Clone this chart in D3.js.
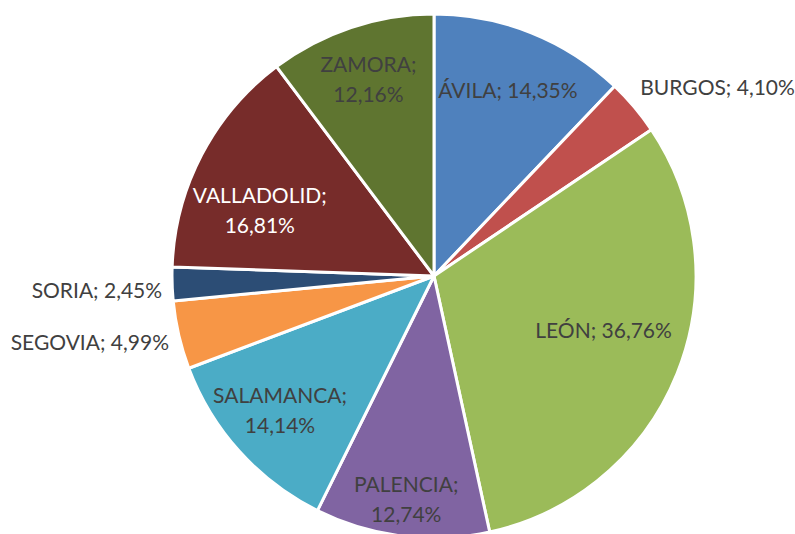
<!DOCTYPE html>
<html>
<head>
<meta charset="utf-8">
<script src="https://cdn.jsdelivr.net/npm/d3@7"></script>
<style>
  body { margin: 0; background: #fff; }
  text { font-family: Lato, "Open Sans", sans-serif; }
</style>
</head>
<body>
<div id="chart"></div>
<script>
// provinces and their values (as shown in the labels)
let provinces = ["ÁVILA", "BURGOS", "LEÓN", "PALENCIA", "SALAMANCA", "SEGOVIA", "SORIA", "VALLADOLID", "ZAMORA"];
let values = [14.35, 4.10, 36.76, 12.74, 14.14, 4.99, 2.45, 16.81, 12.16];
let colors = ["#4F81BD", "#C0504D", "#9BBB59", "#8064A2", "#4BACC6", "#F79646", "#2C4D75", "#772C2A", "#5F7530"];

// label placement: radius fraction, angle nudge (deg), outside or not, two lines or not
let labelRadius = [0.76, 1.0, 0.68, 0.86, 0.78, 1.0, 1.0, 0.71, 0.79];
let labelNudge = [0, 0, -4, 0, 1, 0, 0, -7, 0];
let outside = [false, true, false, false, false, true, true, false, false];
let twoLines = [false, false, false, true, true, false, false, true, true];
let labelColor = ["#404040", "#404040", "#404040", "#404040", "#404040", "#404040", "#404040", "#ffffff", "#404040"];

let width = 795, height = 534;
let cx = 434, cy = 276, radius = 262;

let svg = d3.select("#chart")
    .append("svg")
    .attr("width", width)
    .attr("height", height);

let g = svg.append("g")
    .attr("transform", "translate(" + cx + "," + cy + ")");

let data = provinces.map(function(p, i) { return { name: p, value: values[i], i: i }; });

let pie = d3.pie()
    .sort(null)
    .value(function(d) { return d.value; });

let arc = d3.arc()
    .innerRadius(0)
    .outerRadius(radius);

let arcs = pie(data);

// slices
g.selectAll("path")
    .data(arcs)
    .enter()
    .append("path")
    .attr("d", arc)
    .attr("fill", function(d) { return colors[d.data.i]; })
    .attr("stroke", "#fff")
    .attr("stroke-width", 3)
    .attr("stroke-linejoin", "round");

function fmt(v) {
    return v.toFixed(2).replace(".", ",") + "%";
}

// labels
arcs.forEach(function(d) {
    let i = d.data.i;
    let mid = (d.startAngle + d.endAngle) / 2 + labelNudge[i] * Math.PI / 180;
    let txt = g.append("text")
        .attr("fill", labelColor[i])
        .style("font-size", "21px");

    if (outside[i]) {
        let r = radius + 8;
        let x = Math.sin(mid) * r;
        let y = -Math.cos(mid) * r;
        let right = Math.sin(mid) > 0;
        txt.attr("x", x + (right ? 0 : -2))
            .attr("y", y + (right ? -14 : 6))
            .attr("dy", "0.35em")
            .attr("text-anchor", right ? "start" : "end")
            .text(d.data.name + "; " + fmt(d.data.value));
        return;
    }

    let r = radius * labelRadius[i];
    let x = Math.sin(mid) * r;
    let y = -Math.cos(mid) * r;
    txt.attr("text-anchor", "middle");
    if (twoLines[i]) {
        txt.append("tspan").attr("x", x).attr("y", y - 15).attr("dy", "0.35em").text(d.data.name + ";");
        txt.append("tspan").attr("x", x).attr("y", y + 15).attr("dy", "0.35em").text(fmt(d.data.value));
    } else {
        txt.attr("x", x).attr("y", y).attr("dy", "0.35em")
            .text(d.data.name + "; " + fmt(d.data.value));
    }
});
</script>
</body>
</html>
